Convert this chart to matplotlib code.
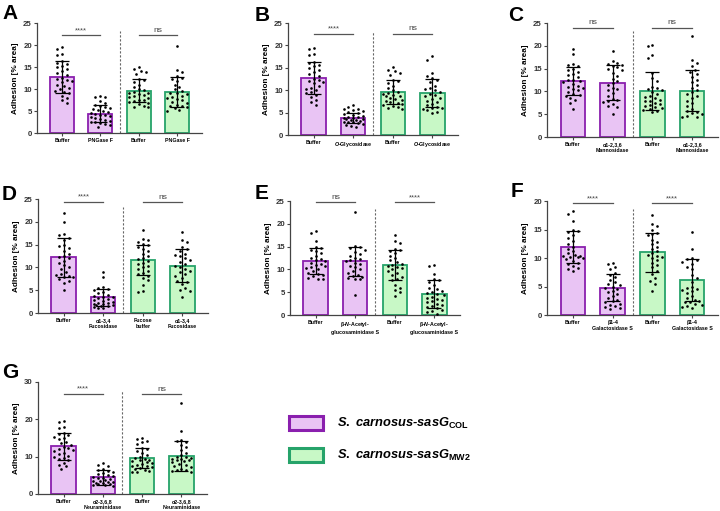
import numpy as np
import matplotlib
matplotlib.use('Agg')
import matplotlib.pyplot as plt
from matplotlib.patches import Rectangle

plt.rcParams.update({
    'font.family': ['Liberation Sans', 'DejaVu Sans'],
    'mathtext.fontset': 'custom',
    'mathtext.rm': 'Liberation Sans:bold',
    'mathtext.it': 'Liberation Sans:italic:bold',
    'mathtext.bf': 'Liberation Sans:bold',
})

W, H = 720, 511
FILL = ['#E9C4F4', '#E9C4F4', '#C8F8C6', '#C8F8C6']
EDGE = ['#8A1FAE', '#8A1FAE', '#26A36A', '#26A36A']

# ---- data ----
# shared controls (A, B, G)
COL_BUFFER = [19.5, 19.2, 18.0, 17.8, 16.4, 16.0, 15.7, 15.3, 15.0, 14.6, 14.0, 13.6, 13.2, 12.5, 12.2,
              12.0, 11.8, 11.5, 11.0, 10.6, 10.3, 10.0, 9.6, 9.3, 9.0, 8.4, 7.9, 7.4, 6.8]
MW2_BUFFER = [15.1, 14.6, 14.2, 13.8, 13.4, 12.3, 12.0, 11.6, 11.0, 10.5, 10.0, 9.7, 9.4, 9.2, 9.0,
              8.8, 8.6, 8.3, 8.1, 7.9, 7.6, 7.4, 7.2, 7.0, 6.8, 6.5, 6.2, 6.0, 5.8]

A_COL_PNG = [8.3, 8.2, 8.1, 7.2, 6.8, 6.4, 6.1, 5.8, 5.6, 5.4, 5.2, 5.0, 4.8, 4.6, 4.4, 4.2, 4.0, 3.8,
             3.6, 3.4, 3.2, 3.0, 2.8, 2.6, 2.5, 2.3, 2.0, 1.8, 1.4]
A_MW2_PNG = [19.8, 14.4, 13.8, 13.0, 12.6, 12.3, 11.9, 11.0, 10.5, 10.0, 9.6, 9.2, 9.0, 8.8, 8.5, 8.2,
             8.0, 7.7, 7.4, 7.0, 6.8, 6.4, 6.1, 5.8, 5.6, 5.3, 5.1, 6.2]
A_MEAN = [12.8, 4.4, 9.6, 9.3]
A_SD = [3.6, 2.0, 2.6, 3.4]

B_COL_OGLY = [6.6, 6.2, 5.9, 5.7, 5.5, 5.3, 5.1, 4.9, 4.7, 4.5, 4.3, 4.1, 4.0, 3.9, 3.8, 3.6, 3.5, 3.4,
              3.3, 3.1, 3.0, 2.9, 2.8, 2.6, 2.4, 2.2, 2.0, 1.8]
B_MW2_OGLY = [17.6, 16.8, 13.8, 13.2, 12.7, 12.3, 11.8, 11.0, 10.5, 10.2, 10.0, 9.6, 9.2, 9.0, 8.7,
              8.3, 8.0, 7.7, 7.3, 7.0, 6.6, 6.3, 6.1, 5.8, 5.5, 5.2, 4.9, 6.0]
B_MEAN = [12.8, 3.8, 9.6, 9.4]
B_SD = [3.6, 1.2, 2.6, 3.2]

C_COL_BUF = [19.3, 18.2, 16.0, 15.8, 15.5, 15.0, 14.6, 14.2, 13.8, 13.5, 13.1, 12.6, 12.4, 12.2, 12.0,
             11.6, 11.2, 10.8, 10.5, 10.2, 9.9, 9.5, 9.3, 9.0, 8.6, 8.2, 7.5, 6.2, 11.0]
C_COL_MAN = [18.9, 16.6, 16.3, 16.0, 15.8, 15.5, 15.3, 15.0, 14.7, 14.0, 13.3, 12.8, 12.2, 11.8, 11.3,
             10.8, 10.5, 10.2, 9.6, 9.0, 8.4, 8.2, 8.0, 7.7, 7.2, 6.8, 6.5, 5.0]
C_MW2_BUF = [20.1, 20.0, 18.0, 17.3, 14.0, 13.0, 12.2, 11.0, 10.8, 10.5, 10.2, 9.9, 9.5, 9.0, 8.8,
             8.5, 8.2, 8.0, 7.8, 7.5, 7.2, 7.0, 6.8, 6.6, 6.3, 6.1, 5.9, 5.7, 5.5]
C_MW2_MAN = [22.2, 16.8, 16.3, 15.6, 14.7, 14.2, 13.8, 13.2, 12.5, 12.0, 11.4, 10.8, 10.3, 9.8, 9.4,
             9.0, 8.5, 8.0, 7.4, 6.8, 6.2, 5.7, 5.5, 5.2, 5.0, 4.6, 4.4, 4.3]
C_MEAN = [12.3, 11.9, 10.1, 10.1]
C_SD = [3.1, 3.8, 4.2, 4.5]

D_COL_BUF = [22.0, 20.0, 17.3, 17.0, 16.5, 16.1, 15.0, 14.6, 14.2, 13.6, 13.0, 12.6, 12.2, 12.0, 11.5,
             11.0, 10.5, 10.1, 9.6, 9.0, 8.6, 8.3, 8.1, 8.0, 7.8, 7.5, 7.0, 6.5, 5.0]
D_COL_FUC = [9.0, 7.8, 5.6, 5.4, 5.2, 5.0, 4.6, 4.3, 4.0, 3.8, 3.6, 3.4, 3.2, 3.0, 2.9, 2.7, 2.5, 2.3,
             2.2, 2.0, 1.9, 1.8, 1.7, 1.6, 1.5, 1.4, 1.2, 1.0]
D_MW2_BUF = [18.1, 16.2, 16.0, 15.6, 15.2, 15.0, 14.5, 14.0, 13.5, 13.0, 12.5, 12.0, 11.8, 11.4, 11.0,
             10.8, 10.4, 10.0, 9.6, 9.2, 8.8, 8.5, 8.2, 7.6, 7.2, 6.2, 4.8, 4.7]
D_MW2_FUC = [17.8, 16.0, 15.6, 14.4, 14.0, 13.5, 13.0, 12.4, 12.0, 11.6, 11.2, 10.8, 10.4, 10.0, 9.6,
             9.2, 8.9, 8.5, 8.1, 7.6, 7.0, 6.8, 6.4, 5.5, 5.0, 4.9, 3.5, 12.7]
D_MEAN = [12.2, 3.4, 11.6, 10.4]
D_SD = [4.2, 1.9, 3.3, 3.6]

E_COL_BUF = [18.5, 18.0, 16.2, 15.0, 14.6, 14.3, 14.0, 13.5, 13.0, 12.5, 12.2, 12.0, 11.8, 11.5, 11.2,
             10.9, 10.7, 10.5, 10.3, 10.0, 9.6, 9.3, 9.0, 8.8, 8.5, 8.2, 8.0, 7.8]
E_COL_NAG = [22.5, 15.2, 15.0, 14.8, 14.3, 13.8, 13.4, 13.0, 12.6, 12.3, 12.0, 11.8, 11.5, 11.2, 10.8,
             10.5, 10.0, 9.6, 9.2, 8.8, 8.6, 8.4, 8.2, 8.0, 7.8, 4.4]
E_MW2_BUF = [17.5, 16.2, 15.8, 14.5, 14.2, 14.0, 13.5, 13.0, 12.5, 12.0, 11.6, 11.2, 11.0, 10.8, 10.5,
             10.2, 10.0, 9.6, 9.2, 8.8, 8.4, 8.0, 7.6, 6.5, 6.0, 5.5, 5.0, 4.2]
E_MW2_NAG = [10.9, 10.8, 9.0, 8.0, 7.6, 7.2, 6.5, 6.0, 5.6, 5.2, 5.0, 4.8, 4.6, 4.3, 4.0, 3.8, 3.5, 3.2,
             3.0, 2.8, 2.5, 2.2, 2.0, 1.8, 1.5, 1.2, 0.9, 0.6, 0.3]
E_MEAN = [11.8, 11.8, 10.9, 4.6]
E_SD = [2.8, 3.2, 3.3, 3.0]

F_COL_BUF = [18.2, 17.8, 16.5, 15.0, 14.8, 14.5, 14.0, 13.5, 13.0, 12.5, 12.0, 11.6, 11.2, 10.8, 10.5,
             10.4, 10.3, 10.2, 10.1, 10.0, 9.8, 9.5, 9.2, 9.0, 8.6, 8.3, 8.0, 7.8]
F_COL_GAL = [9.2, 9.0, 8.5, 8.0, 7.4, 7.0, 6.6, 6.2, 5.8, 5.5, 5.2, 5.0, 4.8, 4.5, 4.2, 4.0, 3.6, 3.3,
             3.0, 2.7, 2.5, 2.3, 2.0, 1.8, 1.6, 1.4, 1.2, 1.0]
F_MW2_BUF = [17.5, 16.0, 15.6, 15.0, 14.4, 14.2, 14.0, 13.2, 12.8, 12.4, 12.0, 11.6, 11.2, 10.8, 10.6,
             10.4, 10.2, 10.0, 9.6, 9.2, 8.8, 8.4, 7.8, 7.2, 6.5, 6.0, 5.4, 4.2]
F_MW2_GAL = [14.5, 11.6, 10.0, 9.8, 9.6, 9.3, 9.0, 8.5, 8.0, 7.0, 6.5, 5.8, 5.0, 4.8, 4.6, 4.4, 4.2,
             3.8, 3.4, 3.0, 2.7, 2.5, 2.3, 2.2, 2.0, 1.8, 1.6, 1.4, 1.2]
F_MEAN = [11.9, 4.8, 11.0, 6.1]
F_SD = [2.8, 2.4, 3.4, 3.7]

G_COL_NEU = [8.2, 7.8, 7.4, 6.8, 6.5, 6.2, 6.0, 5.6, 5.3, 5.0, 4.8, 4.6, 4.4, 4.2, 4.0, 3.8, 3.6, 3.4,
             3.3, 3.2, 3.0, 2.9, 2.8, 2.6, 2.5, 2.4, 2.2]
G_MW2_NEU = [24.3, 17.0, 14.5, 14.3, 14.0, 13.2, 12.5, 11.8, 11.0, 10.5, 10.0, 9.8, 9.6, 9.4, 9.2, 9.0,
             8.8, 8.5, 8.0, 7.8, 7.5, 7.2, 6.8, 6.5, 6.3, 6.1, 6.0, 9.5]
G_MEAN = [12.8, 4.5, 9.6, 10.2]
G_SD = [3.6, 2.0, 2.6, 4.0]

LBL_A = ['Buffer', 'PNGase F', 'Buffer', 'PNGase F']
LBL_B = ['Buffer', r'$\mathit{O}$-Glycosidase', 'Buffer', r'$\mathit{O}$-Glycosidase']
LBL_C = ['Buffer', 'α1-2,3,6\nMannosidase', 'Buffer', 'α1-2,3,6\nMannosidase']
LBL_D = ['Buffer', 'α1-3,4\nFucosidase', 'Fucose\nbuffer', 'α1-3,4\nFucosidase']
LBL_E = ['Buffer', r'β-$\mathit{N}$-Acetyl-' + '\nglucosaminidase S',
         'Buffer', r'β-$\mathit{N}$-Acetyl-' + '\nglucosaminidase S']
LBL_F = ['Buffer', 'β1-4\nGalactosidase S', 'Buffer', 'β1-4\nGalactosidase S']
LBL_G = ['Buffer', 'α2-3,6,8\nNeuraminidase', 'Buffer', 'α2-3,6,8\nNeuraminidase']

# panel: letter, pixel box (left, top, right, bottom), ymax, yticks, groups, mean, sd, labels, sig, sig height
PANELS = [
    ('A', (37, 23, 202, 133), 25, range(0, 26, 5), [COL_BUFFER, A_COL_PNG, MW2_BUFFER, A_MW2_PNG],
     A_MEAN, A_SD, LBL_A, ('****', 'ns'), 22.2, (2, 4)),
    ('B', (288, 23, 458, 135), 25, range(0, 26, 5), [COL_BUFFER, B_COL_OGLY, MW2_BUFFER, B_MW2_OGLY],
     B_MEAN, B_SD, LBL_B, ('****', 'ns'), 22.6, (255, 6)),
    ('C', (547, 23, 718, 137), 25, range(0, 26, 5), [C_COL_BUF, C_COL_MAN, C_MW2_BUF, C_MW2_MAN],
     C_MEAN, C_SD, LBL_C, ('ns', 'ns'), 24.0, (508, 6)),
    ('D', (38, 199, 208, 313), 25, range(0, 26, 5), [D_COL_BUF, D_COL_FUC, D_MW2_BUF, D_MW2_FUC],
     D_MEAN, D_SD, LBL_D, ('****', 'ns'), 24.3, (2, 185)),
    ('E', (290, 201, 460, 315), 25, range(0, 26, 5), [E_COL_BUF, E_COL_NAG, E_MW2_BUF, E_MW2_NAG],
     E_MEAN, E_SD, LBL_E, ('ns', '****'), 24.7, (255, 184)),
    ('F', (547, 201, 718, 315), 20, range(0, 21, 5), [F_COL_BUF, F_COL_GAL, F_MW2_BUF, F_MW2_GAL],
     F_MEAN, F_SD, LBL_F, ('****', '****'), 19.6, (511, 182)),
    ('G', (38, 382, 207, 494), 30, range(0, 31, 10), [COL_BUFFER, G_COL_NEU, MW2_BUFFER, G_MW2_NEU],
     G_MEAN, G_SD, LBL_G, ('****', 'ns'), 26.8, (2, 363)),
]

XLO, XHI = -0.65, 3.65


def swarm(vals, center, px_x, px_y, dia=4.4, maxoff=11.0):
    # simple deterministic beeswarm, offsets limited to about the bar width
    vals = np.asarray(vals, float)
    order = np.argsort(vals)[::-1]
    cands = [0.0]
    step = dia * 0.55
    k = 1
    while k * step <= maxoff:
        cands += [k * step, -k * step]
        k += 1
    placed = []
    xs = np.zeros(len(vals))
    for n, i in enumerate(order):
        y = vals[i] * px_y
        best, best_d = 0.0, -1.0
        seq = cands if n % 2 == 0 else [-c for c in cands]
        for c in seq:
            d = min([np.hypot(c - a, y - b) for a, b in placed] or [99.0])
            if d >= dia:
                best = c
                break
            if d > best_d:
                best, best_d = c, d
        placed.append((best, y))
        xs[i] = center + best / px_x
    return xs


fig = plt.figure(figsize=(W / 100, H / 100), dpi=100)

for letter, (l, t, r, b), ymax, yt, groups, means, sds, labels, sig, sig_y, lpos in PANELS:
    ax = fig.add_axes([l / W, 1 - b / H, (r - l) / W, (b - t) / H])
    ax.set_xlim(XLO, XHI)
    ax.set_ylim(0, ymax)
    px_x = (r - l) / (XHI - XLO)
    px_y = (b - t) / ymax
    x = np.arange(4)
    ax.bar(x, means, width=0.62, color=FILL, edgecolor=EDGE, linewidth=1.3, zorder=1)
    for i, g in enumerate(groups):
        xs = swarm(g, i, px_x, px_y)
        ax.scatter(xs, g, s=3.6, color='black', linewidths=0, zorder=3, clip_on=False)
    ax.errorbar(x, means, yerr=sds, fmt='none', ecolor='black', elinewidth=0.9,
                capsize=4.8, capthick=0.9, zorder=4)
    ax.plot([1.5, 1.5], [0, ymax * 0.93], ls=(0, (2, 1.6)), color='#666666', lw=0.8, zorder=2)
    for (x0, x1), s in zip([(0, 1), (2, 3)], sig):
        ax.plot([x0, x1], [sig_y, sig_y], color='#555555', lw=0.9, clip_on=False)
        ax.text((x0 + x1) / 2, sig_y + ymax * 0.012, s, ha='center', va='bottom',
                fontsize=6 if s == 'ns' else 5.5, color='#444444')
    for sp in ['top', 'right']:
        ax.spines[sp].set_visible(False)
    for sp in ['left', 'bottom']:
        ax.spines[sp].set_color('#444444')
        ax.spines[sp].set_linewidth(0.9)
    ax.set_yticks(list(yt))
    ax.set_yticklabels([str(v) for v in yt], fontsize=5.6, fontweight='bold', color='#333333')
    ax.set_xticks(x)
    ax.set_xticklabels(labels, fontsize=3.8, fontweight='bold', linespacing=1.1)
    ax.tick_params(axis='both', length=2.2, width=0.8, color='#444444', pad=1.5)
    ax.set_ylabel('Adhesion [% area]', fontsize=5.9, fontweight='bold', labelpad=3)
    fig.text(lpos[0] / W, 1 - lpos[1] / H, letter, fontsize=15, fontweight='bold',
             ha='left', va='top')

# legend
LEGEND_TXT = [r'$\mathit{S.\ carnosus}$-$\mathit{sasG}_{\mathrm{COL}}$',
              r'$\mathit{S.\ carnosus}$-$\mathit{sasG}_{\mathrm{MW2}}$']
for k, (top, txt) in enumerate(zip([416, 448], LEGEND_TXT)):
    fig.patches.append(Rectangle((288.5 / W, 1 - (top + 14) / H), 34 / W, 14 / H,
                                 transform=fig.transFigure, facecolor=FILL[2 * k],
                                 edgecolor=EDGE[2 * k], linewidth=2.2))
    fig.text(337 / W, 1 - (top + 7) / H, txt, fontsize=9.3, fontweight='bold', style='italic',
             ha='left', va='center')

fig.savefig('out.png', dpi=100)
